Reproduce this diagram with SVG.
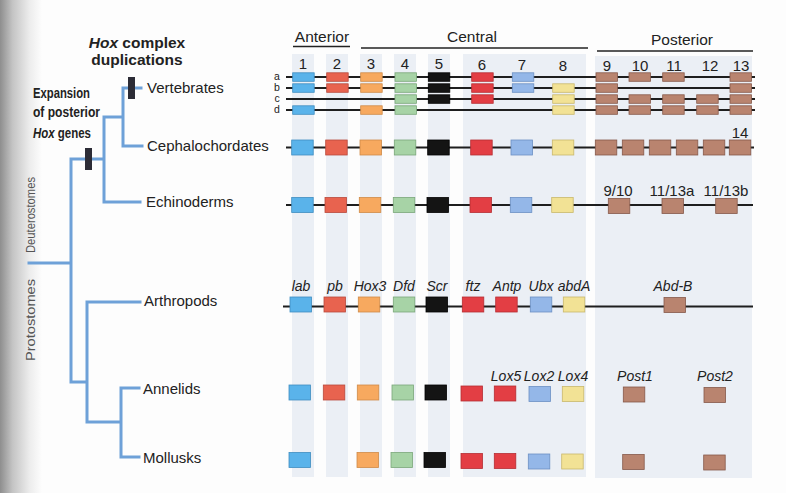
<svg xmlns="http://www.w3.org/2000/svg" width="786" height="493" viewBox="0 0 786 493">
<defs>
<linearGradient id="edge" x1="0" y1="0" x2="1" y2="0">
<stop offset="0" stop-color="#8e8e8e"/>
<stop offset="0.3" stop-color="#c4c4c4"/>
<stop offset="0.7" stop-color="#ececec"/>
<stop offset="1" stop-color="#fdfdfd"/>
</linearGradient>
<style>
.t{font-family:"Liberation Sans","Open Sans",sans-serif;fill:#222}
.tax{font-size:15px}
.hd{font-size:15.5px}
.num{font-size:15px;text-anchor:middle}
.gl{font-size:14px;font-style:italic;text-anchor:middle}
.rl{font-size:10.5px;text-anchor:middle}
.bold{font-weight:bold;font-size:15.5px}
.bold2{font-weight:bold;font-size:15px}
.vt{font-size:12.5px;fill:#555}
.shade{fill:#ebeff5}
.tree{stroke:#6ea1d8;stroke-width:3;fill:none;stroke-linecap:square}
.bar{fill:#2c2c36}
.chr{stroke:#1e1e1e;stroke-width:2}
.hl{stroke:#222;stroke-width:1.6}
.g1{fill:#5ab3ea;stroke:#3f8dc0}
.g2{fill:#e8634f;stroke:#b84a3c}
.g3{fill:#f7a95f;stroke:#cf8a48}
.g4{fill:#a7d3a6;stroke:#7ba77a}
.g5{fill:#141414;stroke:#000}
.g6{fill:#e33e44;stroke:#b52e33}
.g7{fill:#94b7e8;stroke:#6c90c4}
.g8{fill:#f2e295;stroke:#c9b86c}
.gp{fill:#b9846f;stroke:#86594a}
rect.s{width:21.5px;height:8.5px;stroke-width:0.8}
rect.b{width:21.5px;height:15px;stroke-width:0.8}
</style>
</defs>
<rect x="0" y="0" width="786" height="493" fill="#fdfdfd"/>
<rect x="0" y="0" width="42" height="493" fill="url(#edge)"/>

<!-- column shading -->
<g id="shading">
<rect class="shade" x="292" y="54" width="22" height="423"/>
<rect class="shade" x="326" y="54" width="22" height="423"/>
<rect class="shade" x="360" y="54" width="22" height="423"/>
<rect class="shade" x="394" y="54" width="22" height="423"/>
<rect class="shade" x="428" y="54" width="22" height="423"/>
<rect class="shade" x="463" y="54" width="123" height="423"/>
<rect class="shade" x="595" y="56" width="157" height="422"/>
</g>

<!-- headers -->
<g id="headers">
<text class="t hd" x="322" y="42" text-anchor="middle">Anterior</text>
<line class="hl" x1="293" y1="46.5" x2="350" y2="46.5"/>
<text class="t hd" x="472" y="42" text-anchor="middle">Central</text>
<line class="hl" x1="361" y1="48" x2="588" y2="48"/>
<text class="t hd" x="682" y="45" text-anchor="middle">Posterior</text>
<line class="hl" x1="597" y1="51" x2="753" y2="51"/>
<text class="t num" x="303" y="69">1</text>
<text class="t num" x="337" y="69">2</text>
<text class="t num" x="371" y="69">3</text>
<text class="t num" x="405" y="69">4</text>
<text class="t num" x="439" y="69">5</text>
<text class="t num" x="482" y="70">6</text>
<text class="t num" x="522" y="70">7</text>
<text class="t num" x="563" y="71">8</text>
<text class="t num" x="607" y="71">9</text>
<text class="t num" x="640" y="71">10</text>
<text class="t num" x="674" y="71">11</text>
<text class="t num" x="710" y="71">12</text>
<text class="t num" x="741" y="71">13</text>
</g>

<!-- tree connectors -->
<g id="connectors">
<path class="tree" d="M29,263 H71 M71,159 V382 M71,159 H104 M104,117 V202 M104,202 H140 M104,117 H123 M123,88 V146 M123,88 H141 M123,146 H142 M71,382 H87 M87,302 V422 M87,302 H140 M87,422 H121 M121,388 V457 M121,388 H139 M121,457 H139"/>
<rect class="bar" x="85" y="148" width="7" height="22"/>
<rect class="bar" x="128" y="77" width="7" height="22"/>
</g>

<g id="event-labels">
<text class="t bold" x="137" y="48" text-anchor="middle"><tspan font-style="italic">Hox</tspan> complex</text>
<text class="t bold" x="137" y="65" text-anchor="middle">duplications</text>
<text class="t bold2" x="33" y="98" textLength="57" lengthAdjust="spacingAndGlyphs">Expansion</text>
<text class="t bold2" x="33" y="117" textLength="67" lengthAdjust="spacingAndGlyphs">of posterior</text>
<text class="t bold2" x="33" y="138" textLength="58" lengthAdjust="spacingAndGlyphs"><tspan font-style="italic">Hox</tspan> genes</text>
<text class="t vt" transform="translate(35,253) rotate(-90)" textLength="76" lengthAdjust="spacingAndGlyphs">Deuterostomes</text>
<text class="t vt" transform="translate(35,361) rotate(-90)" textLength="82" lengthAdjust="spacingAndGlyphs">Protostomes</text>
</g>

<!-- Vertebrates -->
<g id="vertebrates">
<text class="t tax" x="147" y="93">Vertebrates</text>
<text class="t rl" x="277" y="80">a</text>
<text class="t rl" x="277" y="91">b</text>
<text class="t rl" x="277" y="102">c</text>
<text class="t rl" x="277" y="113">d</text>
<line class="chr" x1="286" y1="77" x2="755" y2="77"/>
<line class="chr" x1="286" y1="88" x2="755" y2="88"/>
<line class="chr" x1="286" y1="99" x2="755" y2="99"/>
<line class="chr" x1="286" y1="110" x2="755" y2="110"/>
<!-- a -->
<rect class="s g1" x="292.7" y="72.8"/><rect class="s g2" x="326.7" y="72.8"/><rect class="s g3" x="360.7" y="72.8"/><rect class="s g4" x="395" y="72.8"/><rect class="s g5" x="428.3" y="72.8"/><rect class="s g6" x="471.7" y="72.8"/><rect class="s g7" x="512.3" y="72.8"/><rect class="s gp" x="596" y="72.8"/><rect class="s gp" x="629" y="72.8"/><rect class="s gp" x="662.7" y="72.8"/><rect class="s gp" x="730" y="72.8"/>
<!-- b -->
<rect class="s g1" x="292.7" y="83.8"/><rect class="s g2" x="326.7" y="83.8"/><rect class="s g3" x="360.7" y="83.8"/><rect class="s g4" x="395" y="83.8"/><rect class="s g5" x="428.3" y="83.8"/><rect class="s g6" x="471.7" y="83.8"/><rect class="s g7" x="512.3" y="83.8"/><rect class="s g8" x="552.7" y="83.8"/><rect class="s gp" x="596" y="83.8"/><rect class="s gp" x="730" y="83.8"/>
<!-- c -->
<rect class="s g4" x="395" y="94.8"/><rect class="s g5" x="428.3" y="94.8"/><rect class="s g6" x="471.7" y="94.8"/><rect class="s g8" x="552.7" y="94.8"/><rect class="s gp" x="596" y="94.8"/><rect class="s gp" x="629" y="94.8"/><rect class="s gp" x="662.7" y="94.8"/><rect class="s gp" x="696.7" y="94.8"/><rect class="s gp" x="730" y="94.8"/>
<!-- d -->
<rect class="s g1" x="292.7" y="105.8"/><rect class="s g3" x="360.7" y="105.8"/><rect class="s g4" x="395" y="105.8"/><rect class="s g8" x="552.7" y="105.8"/><rect class="s gp" x="596" y="105.8"/><rect class="s gp" x="629" y="105.8"/><rect class="s gp" x="662.7" y="105.8"/><rect class="s gp" x="696.7" y="105.8"/><rect class="s gp" x="730" y="105.8"/>
</g>

<!-- Cephalochordates -->
<g id="cephalochordates">
<text class="t tax" x="147" y="151">Cephalochordates</text>
<line class="chr" x1="286" y1="147.5" x2="754" y2="147.5"/>
<rect class="b g1" x="291.7" y="140"/><rect class="b g2" x="325.7" y="140"/><rect class="b g3" x="360" y="140"/><rect class="b g4" x="394.3" y="140"/><rect class="b g5" x="427.7" y="140"/><rect class="b g6" x="470.7" y="140"/><rect class="b g7" x="511" y="140"/><rect class="b g8" x="552.3" y="140"/>
<rect class="b gp" x="595.3" y="140"/><rect class="b gp" x="622.3" y="140"/><rect class="b gp" x="649.3" y="140"/><rect class="b gp" x="676.3" y="140"/><rect class="b gp" x="703.3" y="140"/><rect class="b gp" x="729.3" y="140"/>
<text class="t num" x="740" y="138">14</text>
</g>

<!-- Echinoderms -->
<g id="echinoderms">
<text class="t tax" x="146" y="207">Echinoderms</text>
<line class="chr" x1="286" y1="205" x2="753" y2="205"/>
<rect class="b g1" x="291.7" y="197.5"/><rect class="b g2" x="325" y="197.5"/><rect class="b g3" x="359.3" y="197.5"/><rect class="b g4" x="393.3" y="197.5"/><rect class="b g5" x="427" y="197.5"/><rect class="b g6" x="470" y="197.5"/><rect class="b g7" x="510.3" y="197.5"/><rect class="b g8" x="551.7" y="197.5"/>
<rect class="b gp" x="608.3" y="198.5"/><rect class="b gp" x="662" y="198.5"/><rect class="b gp" x="715.7" y="198.5"/>
<text class="t num" x="618" y="196">9/10</text>
<text class="t num" x="672" y="196">11/13a</text>
<text class="t num" x="726" y="196">11/13b</text>
</g>

<!-- Arthropods -->
<g id="arthropods">
<text class="t tax" x="144" y="306">Arthropods</text>
<line class="chr" x1="283" y1="306.5" x2="753" y2="306.5"/>
<rect class="b g1" x="290" y="297"/><rect class="b g2" x="324" y="297"/><rect class="b g3" x="358.3" y="297"/><rect class="b g4" x="393.3" y="297"/><rect class="b g5" x="426" y="297"/><rect class="b g6" x="462.3" y="297"/><rect class="b g6" x="495.7" y="297"/><rect class="b g7" x="530.3" y="297"/><rect class="b g8" x="563.3" y="297"/><rect class="b gp" x="664" y="297.5"/>
<text class="t gl" x="301" y="291">lab</text>
<text class="t gl" x="335" y="291">pb</text>
<text class="t gl" x="370" y="291">Hox3</text>
<text class="t gl" x="404" y="291">Dfd</text>
<text class="t gl" x="437" y="291">Scr</text>
<text class="t gl" x="473" y="291">ftz</text>
<text class="t gl" x="507" y="291">Antp</text>
<text class="t gl" x="541" y="291">Ubx</text>
<text class="t gl" x="574" y="291">abdA</text>
<text class="t gl" x="673" y="291">Abd-B</text>
</g>

<!-- Annelids -->
<g id="annelids">
<text class="t tax" x="143" y="394">Annelids</text>
<rect class="b g1" x="289" y="385"/><rect class="b g2" x="323.3" y="385"/><rect class="b g3" x="357.3" y="385"/><rect class="b g4" x="392" y="385"/><rect class="b g5" x="425" y="385"/><rect class="b g6" x="461" y="386"/><rect class="b g6" x="494.3" y="386"/><rect class="b g7" x="529" y="386.5"/><rect class="b g8" x="562.3" y="386.5"/><rect class="b gp" x="623.3" y="387"/><rect class="b gp" x="704" y="387.5"/>
<text class="t gl" x="506" y="381">Lox5</text>
<text class="t gl" x="539" y="381">Lox2</text>
<text class="t gl" x="573" y="381">Lox4</text>
<text class="t gl" x="635" y="381">Post1</text>
<text class="t gl" x="715" y="381">Post2</text>
</g>

<!-- Mollusks -->
<g id="mollusks">
<text class="t tax" x="143" y="463">Mollusks</text>
<rect class="b g1" x="289" y="452.5"/><rect class="b g3" x="357" y="452.5"/><rect class="b g4" x="391" y="452.5"/><rect class="b g5" x="424" y="452.5"/><rect class="b g6" x="461" y="453.5"/><rect class="b g6" x="494.3" y="453.5"/><rect class="b g7" x="528.3" y="454"/><rect class="b g8" x="561.7" y="454"/><rect class="b gp" x="622.7" y="454.5"/><rect class="b gp" x="703.7" y="455"/>
</g>
</svg>
